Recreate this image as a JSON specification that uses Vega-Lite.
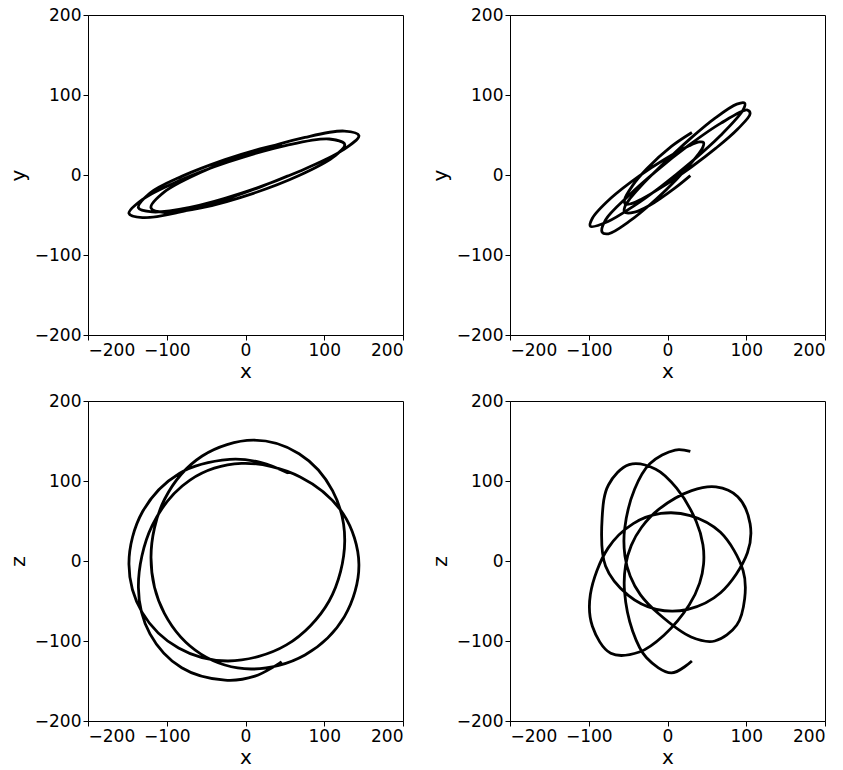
{
  "$schema": "https://vega.github.io/schema/vega-lite/v6.json",
  "background": "white",
  "padding": {"left": 7, "top": 5, "right": 5, "bottom": 5},
  "config": {
    "font": "DejaVu Sans",
    "view": {"stroke": "black", "strokeWidth": 1},
    "axis": {
      "domainColor": "black", "tickColor": "black", "labelColor": "black", "titleColor": "black",
      "labelFont": "DejaVu Sans", "titleFont": "DejaVu Sans",
      "labelFontSize": 17, "titleFontSize": 20, "titleFontWeight": "normal",
      "tickSize": 5, "labelPadding": 2, "grid": false
    },
    "axisX": {"titlePadding": 3},
    "axisY": {"titlePadding": 6},
    "line": {"color": "black", "strokeWidth": 2.8, "interpolate": "catmull-rom"}
  },
  "datasets": {
    "left_xy": [
      {"i":1,"x":54,"y":-1},{"i":2,"x":20,"y":-14.5},{"i":3,"x":-20,"y":-28.5},{"i":4,"x":-84,"y":-46.4},
      {"i":5,"x":-130.8,"y":-53.3},{"i":6,"x":-148,"y":-48},{"i":7,"x":-131.1,"y":-30.7},{"i":8,"x":-85,"y":-7.5},
      {"i":9,"x":-22,"y":16.2},{"i":10,"x":52,"y":37.1},{"i":11,"x":106.2,"y":45},{"i":12,"x":126,"y":38.1},
      {"i":13,"x":110.5,"y":21.7},{"i":14,"x":68,"y":-0.7},{"i":15,"x":10,"y":-22.9},{"i":16,"x":-55,"y":-40.8},
      {"i":17,"x":-102.6,"y":-46.9},{"i":18,"x":-120,"y":-41},{"i":19,"x":-103,"y":-21.2},{"i":20,"x":-56.5,"y":3.4},
      {"i":21,"x":7,"y":27.6},{"i":22,"x":75.5,"y":47},{"i":23,"x":125.6,"y":54.9},{"i":24,"x":144,"y":49.2},
      {"i":25,"x":124,"y":31.3},{"i":26,"x":69.5,"y":5},{"i":27,"x":-5,"y":-22.7},{"i":28,"x":-70.5,"y":-40.5},
      {"i":29,"x":-118.4,"y":-46.1},{"i":30,"x":-136,"y":-41},{"i":31,"x":-121.3,"y":-22.6},{"i":32,"x":-81,"y":-1.7},
      {"i":33,"x":-26,"y":19.2},{"i":34,"x":12,"y":30.9},{"i":35,"x":46,"y":38.9}
    ],
    "left_xz": [
      {"i":1,"x":54,"z":110},{"i":2,"x":20,"z":123},{"i":3,"x":-20,"z":127},{"i":4,"x":-84,"z":109.4},
      {"i":5,"x":-130.8,"z":61.5},{"i":6,"x":-148,"z":-4},{"i":7,"x":-131.1,"z":-64.5},{"i":8,"x":-85,"z":-108.8},
      {"i":9,"x":-22,"z":-125},{"i":10,"x":52,"z":-104.9},{"i":11,"x":106.2,"z":-50},{"i":12,"x":126,"z":25},
      {"i":13,"x":110.5,"z":88},{"i":14,"x":68,"z":134.1},{"i":15,"x":10,"z":151},{"i":16,"x":-55,"z":131.3},
      {"i":17,"x":-102.6,"z":77.5},{"i":18,"x":-120,"z":4},{"i":19,"x":-103,"z":-65.5},{"i":20,"x":-56.5,"z":-116.4},
      {"i":21,"x":7,"z":-135},{"i":22,"x":75.5,"z":-117.4},{"i":23,"x":125.6,"z":-69.5},{"i":24,"x":144,"z":-4},
      {"i":25,"x":124,"z":59},{"i":26,"x":69.5,"z":105.1},{"i":27,"x":-5,"z":122},{"i":28,"x":-70.5,"z":101.2},
      {"i":29,"x":-118.4,"z":44.5},{"i":30,"x":-136,"z":-33},{"i":31,"x":-121.3,"z":-91},{"i":32,"x":-81,"z":-133.5},
      {"i":33,"x":-26,"z":-149},{"i":34,"x":12,"z":-144},{"i":35,"x":46,"z":-126}
    ],
    "right_xy": [
      {"i":1,"x":29,"y":-0.8},{"i":2,"x":9.7,"y":-16.1},{"i":3,"x":-22.5,"y":-37.9},{"i":4,"x":-41.8,"y":-46.5},
      {"i":5,"x":-54.5,"y":-46.4},{"i":6,"x":-54.1,"y":-39.5},{"i":7,"x":-47.3,"y":-29.1},{"i":8,"x":-34.3,"y":-14.3},
      {"i":9,"x":-11.6,"y":8.1},{"i":10,"x":30,"y":46.4},{"i":11,"x":60,"y":70.8},{"i":12,"x":88,"y":88.6},
      {"i":13,"x":98,"y":89.8},{"i":14,"x":96,"y":81.3},{"i":15,"x":67.3,"y":49.3},{"i":16,"x":28.9,"y":15.1},
      {"i":17,"x":-8.4,"y":-14.5},{"i":18,"x":-43.5,"y":-39.2},{"i":19,"x":-75.5,"y":-58.1},{"i":20,"x":-97.9,"y":-64.1},
      {"i":21,"x":-95.4,"y":-54.1},{"i":22,"x":-72.1,"y":-29.1},{"i":23,"x":-35.7,"y":-1},{"i":24,"x":-4.5,"y":19.1},
      {"i":25,"x":27.5,"y":36.5},{"i":26,"x":40.8,"y":41.3},{"i":27,"x":45.8,"y":40.5},{"i":28,"x":45,"y":35.1},
      {"i":29,"x":36.5,"y":22.6},{"i":30,"x":11.6,"y":-5.2},{"i":31,"x":-14.9,"y":-30.6},{"i":32,"x":-48.7,"y":-58.1},
      {"i":33,"x":-75,"y":-73.5},{"i":34,"x":-83,"y":-71.5},{"i":35,"x":-78.7,"y":-56.2},{"i":36,"x":-49.8,"y":-26.2},
      {"i":37,"x":-14,"y":5.2},{"i":38,"x":25.9,"y":36.3},{"i":39,"x":67.4,"y":64.5},{"i":40,"x":101.5,"y":81.2},
      {"i":41,"x":104.9,"y":76.5},{"i":42,"x":89.2,"y":57.5},{"i":43,"x":61.5,"y":33.5},{"i":44,"x":30.7,"y":10.3},
      {"i":45,"x":-10.8,"y":-17.4},{"i":46,"x":-33.1,"y":-30.2},{"i":47,"x":-46,"y":-35.8},{"i":48,"x":-53.2,"y":-36.4},
      {"i":49,"x":-54.6,"y":-31.1},{"i":50,"x":-44.2,"y":-13},{"i":51,"x":-26.6,"y":7.5},{"i":52,"x":4.9,"y":35.8},
      {"i":53,"x":31,"y":53.2}
    ],
    "right_xz": [
      {"i":1,"x":29,"z":137},{"i":2,"x":9.7,"z":138.7},{"i":3,"x":-22.5,"z":121.5},{"i":4,"x":-41.8,"z":89.6},
      {"i":5,"x":-54.5,"z":39.6},{"i":6,"x":-54.1,"z":6.6},{"i":7,"x":-47.3,"z":-19.1},{"i":8,"x":-34.3,"z":-42.4},
      {"i":9,"x":-11.6,"z":-65.7},{"i":10,"x":30,"z":-95},{"i":11,"x":60,"z":-100},{"i":12,"x":88,"z":-80},
      {"i":13,"x":98,"z":-47},{"i":14,"x":96,"z":-12},{"i":15,"x":67.3,"z":35.8},{"i":16,"x":28.9,"z":56.8},
      {"i":17,"x":-8.4,"z":59.4},{"i":18,"x":-43.5,"z":46.7},{"i":19,"x":-75.5,"z":16.1},{"i":20,"x":-97.9,"z":-41.6},
      {"i":21,"x":-95.4,"z":-81.5},{"i":22,"x":-72.1,"z":-115.3},{"i":23,"x":-35.7,"z":-113.8},{"i":24,"x":-4.5,"z":-92.8},
      {"i":25,"x":27.5,"z":-55.1},{"i":26,"x":40.8,"z":-27.7},{"i":27,"x":45.8,"z":-4},{"i":28,"x":45,"z":20.2},
      {"i":29,"x":36.5,"z":49.4},{"i":30,"x":11.6,"z":91},{"i":31,"x":-14.9,"z":114.8},{"i":32,"x":-48.7,"z":120.5},
      {"i":33,"x":-75,"z":95},{"i":34,"x":-83,"z":54},{"i":35,"x":-78.7,"z":-6.2},{"i":36,"x":-49.8,"z":-42.9},
      {"i":37,"x":-14,"z":-60.4},{"i":38,"x":25.9,"z":-60.4},{"i":39,"x":67.4,"z":-39.7},{"i":40,"x":101.5,"z":10.2},
      {"i":41,"x":104.9,"z":46.5},{"i":42,"x":89.2,"z":80.3},{"i":43,"x":61.5,"z":92.6},{"i":44,"x":30.7,"z":87.9},
      {"i":45,"x":-10.8,"z":64.8},{"i":46,"x":-33.1,"z":41.9},{"i":47,"x":-46,"z":19.5},{"i":48,"x":-53.2,"z":-5.4},
      {"i":49,"x":-54.6,"z":-37.6},{"i":50,"x":-44.2,"z":-87.7},{"i":51,"x":-26.6,"z":-121},{"i":52,"x":4.9,"z":-139.9},
      {"i":53,"x":31,"z":-125}
    ]
  },
  "bounds": "flush",
  "columns": 2,
  "spacing": {"row": 66, "column": 107},
  "concat": [
    {
      "data": {"name": "left_xy"}, "width": 315, "height": 320,
      "mark": {"type": "line"},
      "encoding": {
        "x": {"field": "x", "type": "quantitative", "scale": {"domain": [-200, 200], "nice": false}, "axis": {"values": [-200, -100, 0, 100, 200], "title": "x"}},
        "y": {"field": "y", "type": "quantitative", "scale": {"domain": [-200, 200], "nice": false}, "axis": {"values": [-200, -100, 0, 100, 200], "title": "y"}},
        "order": {"field": "i"}
      }
    },
    {
      "data": {"name": "right_xy"}, "width": 315, "height": 320,
      "mark": {"type": "line"},
      "encoding": {
        "x": {"field": "x", "type": "quantitative", "scale": {"domain": [-200, 200], "nice": false}, "axis": {"values": [-200, -100, 0, 100, 200], "title": "x"}},
        "y": {"field": "y", "type": "quantitative", "scale": {"domain": [-200, 200], "nice": false}, "axis": {"values": [-200, -100, 0, 100, 200], "title": "y"}},
        "order": {"field": "i"}
      }
    },
    {
      "data": {"name": "left_xz"}, "width": 315, "height": 320,
      "mark": {"type": "line"},
      "encoding": {
        "x": {"field": "x", "type": "quantitative", "scale": {"domain": [-200, 200], "nice": false}, "axis": {"values": [-200, -100, 0, 100, 200], "title": "x"}},
        "y": {"field": "z", "type": "quantitative", "scale": {"domain": [-200, 200], "nice": false}, "axis": {"values": [-200, -100, 0, 100, 200], "title": "z"}},
        "order": {"field": "i"}
      }
    },
    {
      "data": {"name": "right_xz"}, "width": 315, "height": 320,
      "mark": {"type": "line"},
      "encoding": {
        "x": {"field": "x", "type": "quantitative", "scale": {"domain": [-200, 200], "nice": false}, "axis": {"values": [-200, -100, 0, 100, 200], "title": "x"}},
        "y": {"field": "z", "type": "quantitative", "scale": {"domain": [-200, 200], "nice": false}, "axis": {"values": [-200, -100, 0, 100, 200], "title": "z"}},
        "order": {"field": "i"}
      }
    }
  ]
}
